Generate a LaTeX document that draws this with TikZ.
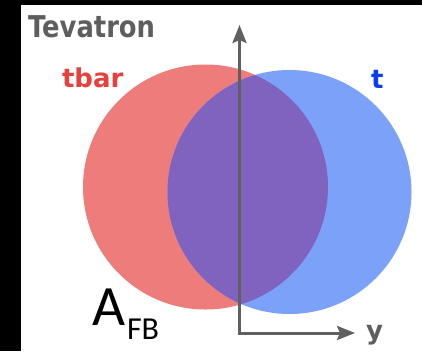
\documentclass[tikz,border=0pt]{standalone}
\usepackage{fontspec}
\usetikzlibrary{arrows.meta}
\newfontfamily\dvs{DejaVu Sans}
\newfontfamily\carl{Carlito}
\definecolor{redc}{HTML}{EE7C7B}
\definecolor{bluec}{HTML}{7CA1F8}
\definecolor{purc}{HTML}{8063BF}
\definecolor{axisc}{HTML}{606060}
\definecolor{tbarc}{HTML}{E8403A}
\definecolor{tc}{HTML}{0A3CF2}
\definecolor{tevc}{HTML}{5E5E5E}
\tikzset{
  lbl/.style={anchor=base west, inner sep=0pt, outer sep=0pt},
  axisline/.style={draw=axisc, line width=3pt, line join=miter,
    {Stealth[length=18pt,width=14pt,inset=3pt]}-{Stealth[length=18pt,width=14pt,inset=3pt]}}
}
\begin{document}
\begin{tikzpicture}[x=1pt,y=-1pt]
\useasboundingbox (0,0) rectangle (422,351);
\fill[white] (0,0) rectangle (422,351);
\fill[black] (0,0) rectangle (21,351);
\fill[black] (0,0) rectangle (422,5);
% circles
\fill[redc] (205.5,187) circle[radius=122.5];
\fill[bluec] (289.5,192) circle[radius=122];
\begin{scope}
  \clip (205.5,187) circle[radius=122.5];
  \fill[purc] (289.5,192) circle[radius=122];
\end{scope}
% axes
\coordinate (origin) at (239.5,333);
\coordinate (ytip) at (239.5,25);
\coordinate (xtip) at (355,333);
\draw[axisline] (ytip) -- (origin) -- (xtip);
% labels
\node[lbl, text=tevc] (tev) at (28,37) {\scalebox{0.86}[1]{\dvs\bfseries\fontsize{30}{30}\selectfont Tevatron}};
\node[lbl, text=tbarc] (tbar) at (62,87) {\dvs\bfseries\fontsize{26}{26}\selectfont tbar};
\node[lbl, text=tc] (t) at (371,88) {\dvs\bfseries\fontsize{26}{26}\selectfont t};
\node[lbl, text=tevc] (ylab) at (366,339) {\dvs\bfseries\fontsize{26}{26}\selectfont y};
\node[lbl] (A) at (92,325) {\carl\fontsize{57}{57}\selectfont A};
\node[lbl] (FB) at (127,339) {\carl\fontsize{32}{32}\selectfont FB};
\end{tikzpicture}
\end{document}
